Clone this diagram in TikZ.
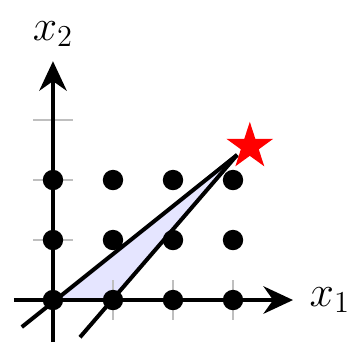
\documentclass[tikz,border=0pt]{standalone}
\usepackage{amsmath, amssymb}
\usepackage{xcolor}
\usepackage{tikz}
\usetikzlibrary{arrows.meta, positioning, shapes.geometric, calc}

\begin{document}
\begin{tikzpicture}[
  axis/.style={-{Stealth[length=14pt, width=13pt]}, line width=1.8pt},
  tick/.style={gray!50, line width=1pt},
  cut/.style={line width=1.9pt},
  latt/.style={circle, fill=black, inner sep=0pt, minimum size=0.34cm},
  opt/.style={star, star points=5, star point ratio=2.618, fill=red,
              inner sep=0pt, minimum size=0.82cm},
  lab/.style={font=\fontsize{22}{26}\selectfont, inner sep=1pt}
]
  \useasboundingbox (-0.883,-0.717) rectangle (5.033,5.0);

  \coordinate (o)    at (0,0);
  \coordinate (e1)   at (1,0);
  \coordinate (apex) at (3.07,2.42);
  \coordinate (a0)   at (-0.52,-0.45);
  \coordinate (b0)   at (0.45,-0.62);

  % cone
  \fill[blue!10] (o) -- (e1) -- (apex) -- cycle;

  % ticks
  \foreach \k in {1,2,3} {
    \draw[tick] (-0.33,\k) -- (0.33,\k);
    \draw[tick] (\k,-0.33) -- (\k,0.33);
  }

  % axes
  \draw[axis] (-0.65,0) -- (4,0) node[lab, right=6pt] (x1) {$x_1$};
  \draw[axis] (0,-0.7) -- (0,3.98) node[lab, above=5pt] (x2) {$x_2$};

  % cuts
  \draw[cut] (a0) -- (apex);
  \draw[cut] (b0) -- (apex);

  % lattice points
  \foreach \i in {0,...,3}
    \foreach \j in {0,...,2}
      \node[latt] (p\i\j) at (\i,\j) {};

  \node[opt] (star) at (3.28,2.56) {};
\end{tikzpicture}
\end{document}
